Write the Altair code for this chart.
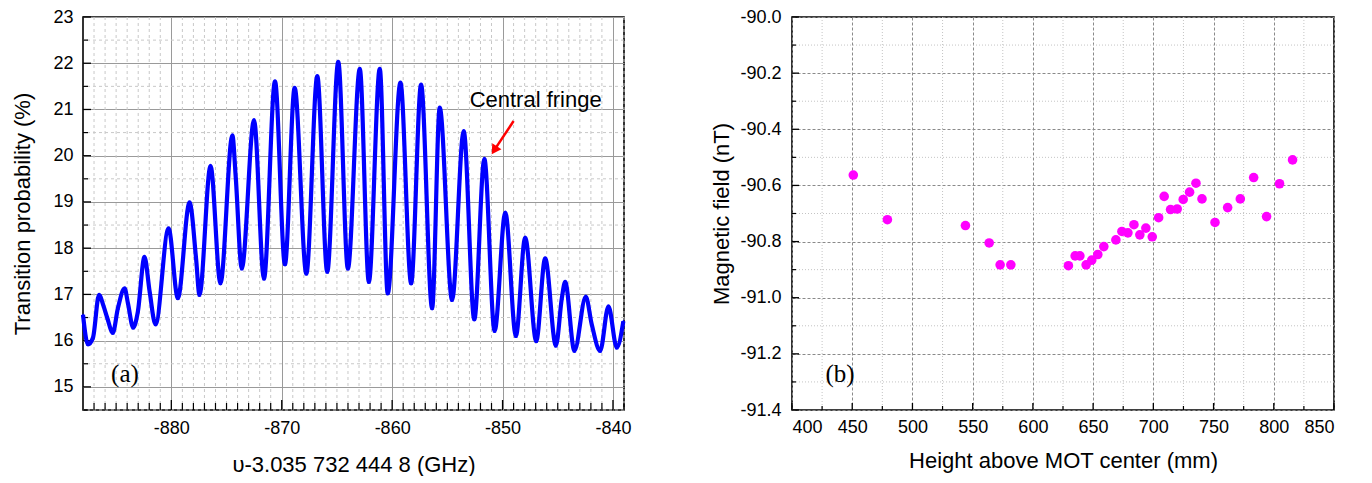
import altair as alt
import pandas as pd

# ---------------- Panel (a): Ramsey fringes ----------------
freq = [-888.0, -887.55, -887.1, -886.55, -886.13, -885.8, -885.3, -884.84, -884.23, -883.93,
        -883.45, -883.03, -882.43, -881.97, -881.43, -880.25, -879.41, -878.35, -877.76, -877.45,
        -876.45, -875.55, -874.47, -874.17, -873.62, -872.51, -871.61, -870.61, -869.71, -868.83,
        -867.77, -866.78, -865.88, -864.88, -864.01, -862.93, -862.11, -861.12, -860.40, -859.25,
        -858.28, -857.38, -856.38, -855.69, -854.57, -853.52, -852.56, -851.65, -850.72, -849.75,
        -848.79, -847.95, -846.95, -846.14, -845.17, -844.63, -844.33, -843.49, -842.46, -841.92,
        -841.16, -840.41, -839.65, -839.06]
prob = [16.56, 15.92, 16.06, 16.99, 16.74, 16.49, 16.17, 16.70, 17.13, 16.81,
        16.28, 16.63, 17.81, 17.07, 16.35, 18.43, 16.92, 18.99, 17.78, 16.99,
        19.78, 17.24, 20.44, 19.55, 17.56, 20.77, 17.34, 21.61, 17.65, 21.47,
        17.45, 21.72, 17.49, 22.03, 17.56, 21.88, 17.27, 21.88, 17.02, 21.58,
        17.24, 21.54, 16.70, 21.04, 16.88, 20.53, 16.46, 19.93, 16.21, 18.77,
        16.10, 18.23, 15.99, 17.78, 15.89, 16.92, 17.27, 15.78, 16.95, 16.35,
        15.78, 16.74, 15.85, 16.42]

a_xticks = [-880, -870, -860, -850, -840]
a_yticks = [15, 16, 17, 18, 19, 20, 21, 22, 23]
a_xminor = [v for v in range(-887, -838) if v % 10 != 0]
a_yminor = [14.5 + 1.0 * i for i in range(9)]

arrow_x = [-849.0]
arrow_y = [20.75]
arrow_x2 = [-850.75]
arrow_y2 = [20.12]
central_label = ["Central fringe"]
central_x = [-847.0]
central_y = [21.05]
a_label_x = [-884.2]
a_label_y = [15.27]

# ---------------- Panel (b): magnetic field ----------------
height = [450.9, 479.2, 544.0, 563.7, 572.8, 581.7, 629.5, 635.1, 639.0, 644.2,
          648.9, 653.9, 658.9, 668.9, 673.9, 678.9, 683.9, 688.8, 693.8, 699.1,
          704.4, 709.0, 714.3, 719.8, 724.8, 730.1, 735.4, 740.4, 751.2, 761.7,
          772.2, 783.3, 794.0, 804.8, 815.6]
field = [-90.563, -90.722, -90.743, -90.805, -90.883, -90.883, -90.886, -90.851, -90.851, -90.883,
         -90.866, -90.846, -90.818, -90.794, -90.764, -90.769, -90.740, -90.776, -90.752, -90.783,
         -90.715, -90.639, -90.686, -90.684, -90.650, -90.624, -90.592, -90.648, -90.732, -90.679,
         -90.648, -90.572, -90.711, -90.594, -90.509]

b_xticks = [400, 450, 500, 550, 600, 650, 700, 750, 800, 850]
b_yticks = [-91.4, -91.2, -91.0, -90.8, -90.6, -90.4, -90.2, -90.0]
b_xminor = [425, 475, 525, 575, 625, 675, 725, 775, 825]
b_yminor = [-91.3, -91.1, -90.9, -90.7, -90.5, -90.3, -90.1]
b_label_x = [439.9]
b_label_y = [-91.273]

FONT = "Liberation Sans"
MINUS = "\u2212"
PLOT_H = 393

# ---------- helpers ----------
def ax_a():
    return alt.Axis(values=a_xticks, title="υ-3.035 732 444 8 (GHz)", gridColor="#9a9a9a",
                    gridWidth=1, labelExpr="''+datum.value", labelPadding=9, titlePadding=17)

def ay_a():
    return alt.Axis(values=a_yticks, title="Transition probability (%)", gridColor="#9a9a9a",
                    gridWidth=1, labelExpr="''+datum.value", labelPadding=10, titlePadding=18)

XA = dict(scale=alt.Scale(domain=[-888, -839], nice=False, zero=False))
YA = dict(scale=alt.Scale(domain=[14.5, 23], nice=False, zero=False))

def xa(f):
    return alt.X(f, type="quantitative", axis=ax_a(), **XA)

def ya(f):
    return alt.Y(f, type="quantitative", axis=ay_a(), **YA)

line_df = pd.DataFrame({"f": freq, "p": prob})
a_line = alt.Chart(line_df).mark_line(color="#0000ff", strokeWidth=4.2, strokeJoin="round",
                                      interpolate="monotone").encode(
    x=xa("f"), y=ya("p"), order=alt.Order("f:Q"))
a_pts = alt.Chart(line_df).mark_point(color="#0000ff", shape="triangle-up", filled=True, size=14,
                                      opacity=1).encode(x=xa("f"), y=ya("p"))

a_minx = alt.Chart(pd.DataFrame({"v": a_xminor})).mark_rule(
    color="#c8c8c8", strokeDash=[3, 3], strokeWidth=1).encode(x=xa("v"))
a_miny = alt.Chart(pd.DataFrame({"v": a_yminor})).mark_rule(
    color="#c8c8c8", strokeDash=[3, 3], strokeWidth=1).encode(y=ya("v"))

# inward ticks
a_tx_major = alt.Chart(pd.DataFrame({"v": a_xticks})).mark_rule(color="black", strokeWidth=1.3).encode(
    x=xa("v"), y=alt.value(PLOT_H), y2=alt.value(PLOT_H - 10))
a_tx_minor = alt.Chart(pd.DataFrame({"v": a_xminor})).mark_rule(color="black", strokeWidth=1.2).encode(
    x=xa("v"), y=alt.value(PLOT_H), y2=alt.value(PLOT_H - 7))
a_ty_major = alt.Chart(pd.DataFrame({"v": a_yticks})).mark_rule(color="black", strokeWidth=1.3).encode(
    y=ya("v"), x=alt.value(0), x2=alt.value(8))
a_ty_minor = alt.Chart(pd.DataFrame({"v": a_yminor})).mark_rule(color="black", strokeWidth=1.2).encode(
    y=ya("v"), x=alt.value(0), x2=alt.value(5))

arrow_df = pd.DataFrame({"x": arrow_x, "y": arrow_y, "x2": arrow_x2, "y2": arrow_y2})
a_arrow = alt.Chart(arrow_df).mark_rule(color="#ff0000", strokeWidth=2.5).encode(
    x=xa("x"), y=ya("y"), x2="x2", y2="y2")
a_head = alt.Chart(arrow_df).mark_point(color="#ff0000", filled=True, opacity=1,
                                        shape="triangle-up", size=120, angle=213).encode(
    x=xa("x2"), y=ya("y2"))

central_df = pd.DataFrame({"x": central_x, "y": central_y, "t": central_label})
a_text = alt.Chart(central_df).mark_text(font=FONT, fontSize=22, color="black", align="center",
                                         baseline="alphabetic").encode(
    x=xa("x"), y=ya("y"), text="t")

alab_df = pd.DataFrame({"x": a_label_x, "y": a_label_y, "t": ["(a)"]})
a_lab = alt.Chart(alab_df).mark_text(font="Liberation Serif", fontSize=25, color="black",
                                     align="center", baseline="middle").encode(
    x=xa("x"), y=ya("y"), text="t")

left = alt.layer(a_minx, a_miny, a_tx_major, a_tx_minor, a_ty_major, a_ty_minor,
                 a_line, a_pts, a_arrow, a_head, a_text, a_lab).properties(
    width=541, height=PLOT_H)

# ---------- panel b ----------
def ax_b():
    return alt.Axis(values=b_xticks, title="Height above MOT center (mm)", gridColor="#8a8a8a",
                    gridDash=[3, 2], gridWidth=1, labelExpr="''+datum.value",
                    labelPadding=8, titlePadding=14)

def ay_b():
    return alt.Axis(values=b_yticks, title="Magnetic field (nT)", gridColor="#8a8a8a",
                    gridDash=[3, 2], gridWidth=1,
                    labelExpr="replace(format(datum.value, '.1f'), '" + MINUS + "', '-')",
                    labelPadding=11, titlePadding=6)

XB = dict(scale=alt.Scale(domain=[400, 850], nice=False, zero=False))
YB = dict(scale=alt.Scale(domain=[-91.4, -90.0], nice=False, zero=False))

def xb(f):
    return alt.X(f, type="quantitative", axis=ax_b(), **XB)

def yb(f):
    return alt.Y(f, type="quantitative", axis=ay_b(), **YB)

b_minx = alt.Chart(pd.DataFrame({"v": b_xminor})).mark_rule(
    color="#c4c4c4", strokeDash=[1, 2], strokeWidth=1).encode(x=xb("v"))
b_miny = alt.Chart(pd.DataFrame({"v": b_yminor})).mark_rule(
    color="#c4c4c4", strokeDash=[1, 2], strokeWidth=1).encode(y=yb("v"))

b_tx_major = alt.Chart(pd.DataFrame({"v": b_xticks})).mark_rule(color="black", strokeWidth=1.3).encode(
    x=xb("v"), y=alt.value(PLOT_H), y2=alt.value(PLOT_H - 7))
b_tx_minor = alt.Chart(pd.DataFrame({"v": b_xminor})).mark_rule(color="black", strokeWidth=1.2).encode(
    x=xb("v"), y=alt.value(PLOT_H), y2=alt.value(PLOT_H - 4))
b_ty_major = alt.Chart(pd.DataFrame({"v": b_yticks})).mark_rule(color="black", strokeWidth=1.3).encode(
    y=yb("v"), x=alt.value(0), x2=alt.value(7))
b_ty_minor = alt.Chart(pd.DataFrame({"v": b_yminor})).mark_rule(color="black", strokeWidth=1.2).encode(
    y=yb("v"), x=alt.value(0), x2=alt.value(4))

pts_df = pd.DataFrame({"h": height, "b": field})
b_pts = alt.Chart(pts_df).mark_circle(color="#ff00ff", size=92, opacity=1).encode(
    x=xb("h"), y=yb("b"))

blab_df = pd.DataFrame({"x": b_label_x, "y": b_label_y, "t": ["(b)"]})
b_lab = alt.Chart(blab_df).mark_text(font="Liberation Serif", fontSize=25, color="black",
                                     align="center", baseline="middle").encode(
    x=xb("x"), y=yb("y"), text="t")

right = alt.layer(b_minx, b_miny, b_tx_major, b_tx_minor, b_ty_major, b_ty_minor,
                  b_pts, b_lab).properties(width=542, height=PLOT_H)

chart = alt.hconcat(left, right, spacing=78).properties(
    padding={"top": -1, "left": 3, "right": 4, "bottom": 0},
    background="white"
).configure_view(stroke="black", strokeWidth=1.6).configure_axis(
    labelFont=FONT, labelFontSize=18, labelColor="black",
    titleFont=FONT, titleFontSize=22, titleFontWeight="normal", titleColor="black",
    ticks=False, domain=False, grid=True
)

chart.save("out.html", embed_options={"renderer": "svg", "actions": False})
